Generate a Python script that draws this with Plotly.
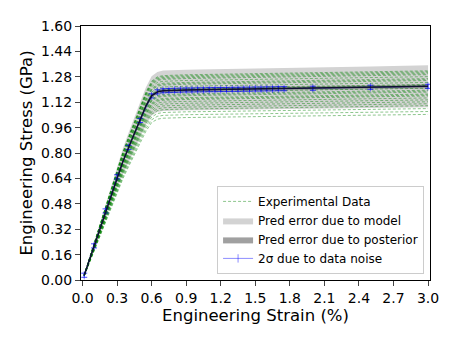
import plotly.graph_objects as go

# mean prediction (strain %, stress GPa)
mean_strain = [0.015, 0.05, 0.1, 0.15, 0.2, 0.25, 0.3, 0.35, 0.4, 0.45, 0.5, 0.55, 0.6,
               0.65, 0.7, 0.75, 0.8, 0.9, 1.0, 1.1, 1.2, 1.3, 1.4, 1.5, 1.6, 1.75,
               2.0, 2.5, 3.0]
mean_stress = [0.030, 0.105, 0.215, 0.325, 0.435, 0.545, 0.650, 0.745, 0.835, 0.920,
               1.005, 1.095, 1.160, 1.185, 1.192, 1.194, 1.195, 1.197, 1.198, 1.199,
               1.200, 1.201, 1.202, 1.203, 1.204, 1.205, 1.208, 1.214, 1.220]

# half widths of the two grey bands at the same strains
model_half = [0.004, 0.012, 0.024, 0.036, 0.048, 0.060, 0.072, 0.082, 0.092, 0.101,
              0.110, 0.118, 0.124, 0.126, 0.127, 0.127, 0.128, 0.128, 0.128, 0.128,
              0.128, 0.129, 0.129, 0.129, 0.129, 0.130, 0.130, 0.131, 0.132]
post_half = [0.001, 0.002, 0.003, 0.004, 0.005, 0.006, 0.007, 0.008, 0.009, 0.010,
             0.011, 0.012, 0.012, 0.012, 0.012, 0.012, 0.012, 0.012, 0.012, 0.012,
             0.012, 0.012, 0.012, 0.012, 0.012, 0.012, 0.012, 0.013, 0.013]

# plateau level of each experimental curve, relative to the mean curve
exp_level = [0.855, 0.87, 0.885, 0.90, 0.91, 0.92, 0.93, 0.94, 0.95, 0.955, 0.96,
             0.97, 0.975, 0.98, 0.99, 1.0, 1.005, 1.01, 1.02, 1.03, 1.035, 1.04,
             1.05, 1.06, 1.065, 1.07, 1.075, 1.08]

# data points with 2 sigma noise
noise_strain = [0.015, 0.1, 0.2, 0.3, 0.4, 0.5, 0.6, 0.65, 0.7, 0.75, 0.8, 0.85, 0.9,
                0.95, 1.0, 1.05, 1.1, 1.15, 1.2, 1.25, 1.3, 1.35, 1.4, 1.45, 1.5,
                1.55, 1.6, 1.65, 1.7, 1.75, 2.0, 2.5, 3.0]
noise_stress = [0.030, 0.215, 0.435, 0.650, 0.835, 1.005, 1.160, 1.185, 1.192, 1.193,
                1.195, 1.196, 1.197, 1.197, 1.198, 1.198, 1.199, 1.199, 1.200, 1.200,
                1.201, 1.201, 1.202, 1.202, 1.203, 1.203, 1.204, 1.204, 1.205, 1.205,
                1.208, 1.214, 1.220]
noise_err = 0.013

model_lo = [m - h for m, h in zip(mean_stress, model_half)]
model_hi = [m + h for m, h in zip(mean_stress, model_half)]
post_lo = [m - h for m, h in zip(mean_stress, post_half)]
post_hi = [m + h for m, h in zip(mean_stress, post_half)]

exp_x, exp_y = [], []
for lv in exp_level:
    exp_x += mean_strain + [None]
    exp_y += [s * lv for s in mean_stress] + [None]

fig = go.Figure()

fig.add_trace(go.Scatter(x=mean_strain, y=model_lo, mode="lines", line=dict(width=0),
                         showlegend=False, hoverinfo="skip"))
fig.add_trace(go.Scatter(x=mean_strain, y=model_hi, mode="lines", line=dict(width=0),
                         fill="tonexty", fillcolor="#d3d3d3",
                         name="Pred error due to model", legendrank=2))
fig.add_trace(go.Scatter(x=mean_strain, y=post_lo, mode="lines", line=dict(width=0),
                         showlegend=False, hoverinfo="skip"))
fig.add_trace(go.Scatter(x=mean_strain, y=post_hi, mode="lines", line=dict(width=0),
                         fill="tonexty", fillcolor="#a0a0a0",
                         name="Pred error due to posterior", legendrank=3))

fig.add_trace(go.Scatter(x=exp_x, y=exp_y, mode="lines",
                         line=dict(color="rgba(0,128,0,0.45)", width=1, dash="3px,2px"),
                         name="Experimental Data", legendrank=1))

fig.add_trace(go.Scatter(x=noise_strain, y=noise_stress, mode="lines+markers",
                         line=dict(color="rgba(0,0,255,0.45)", width=1),
                         marker=dict(symbol="line-ns-open", size=6,
                                     line=dict(color="rgba(0,0,255,0.6)", width=1)),
                         error_y=dict(type="constant", value=noise_err,
                                      color="rgba(0,0,255,0.7)", thickness=1, width=3),
                         name="2σ due to data noise", legendrank=4))

fig.add_trace(go.Scatter(x=mean_strain, y=mean_stress, mode="lines",
                         line=dict(color="#101030", width=1.5), showlegend=False))

fig.update_layout(
    width=457, height=343,
    margin=dict(l=81, r=27, t=26, b=63),
    paper_bgcolor="white", plot_bgcolor="white",
    font=dict(family="DejaVu Sans", color="black", size=14),
    legend=dict(x=0.983, y=0.024, xanchor="right", yanchor="bottom",
                traceorder="normal",
                bgcolor="rgba(255,255,255,0.8)", bordercolor="#cccccc", borderwidth=1,
                font=dict(size=12), tracegroupgap=0),
)
fig.update_xaxes(range=[-0.013, 3.017], tick0=0, dtick=0.3, tickformat=".1f",
                 showline=True, linecolor="black", linewidth=1, mirror=True,
                 ticks="outside", ticklen=5, showgrid=False, zeroline=False,
                 title=dict(text="Engineering Strain (%)", font=dict(size=16.5), standoff=3))
fig.update_yaxes(range=[0, 1.6], tick0=0, dtick=0.16, tickformat=".2f",
                 showline=True, linecolor="black", linewidth=1, mirror=True,
                 ticks="outside", ticklen=5, showgrid=False, zeroline=False,
                 title=dict(text="Engineering Stress (GPa)", font=dict(size=16.5), standoff=4))

fig.write_html("out.html", config={"displayModeBar": False},
               post_script="document.body.style.margin='0';")
